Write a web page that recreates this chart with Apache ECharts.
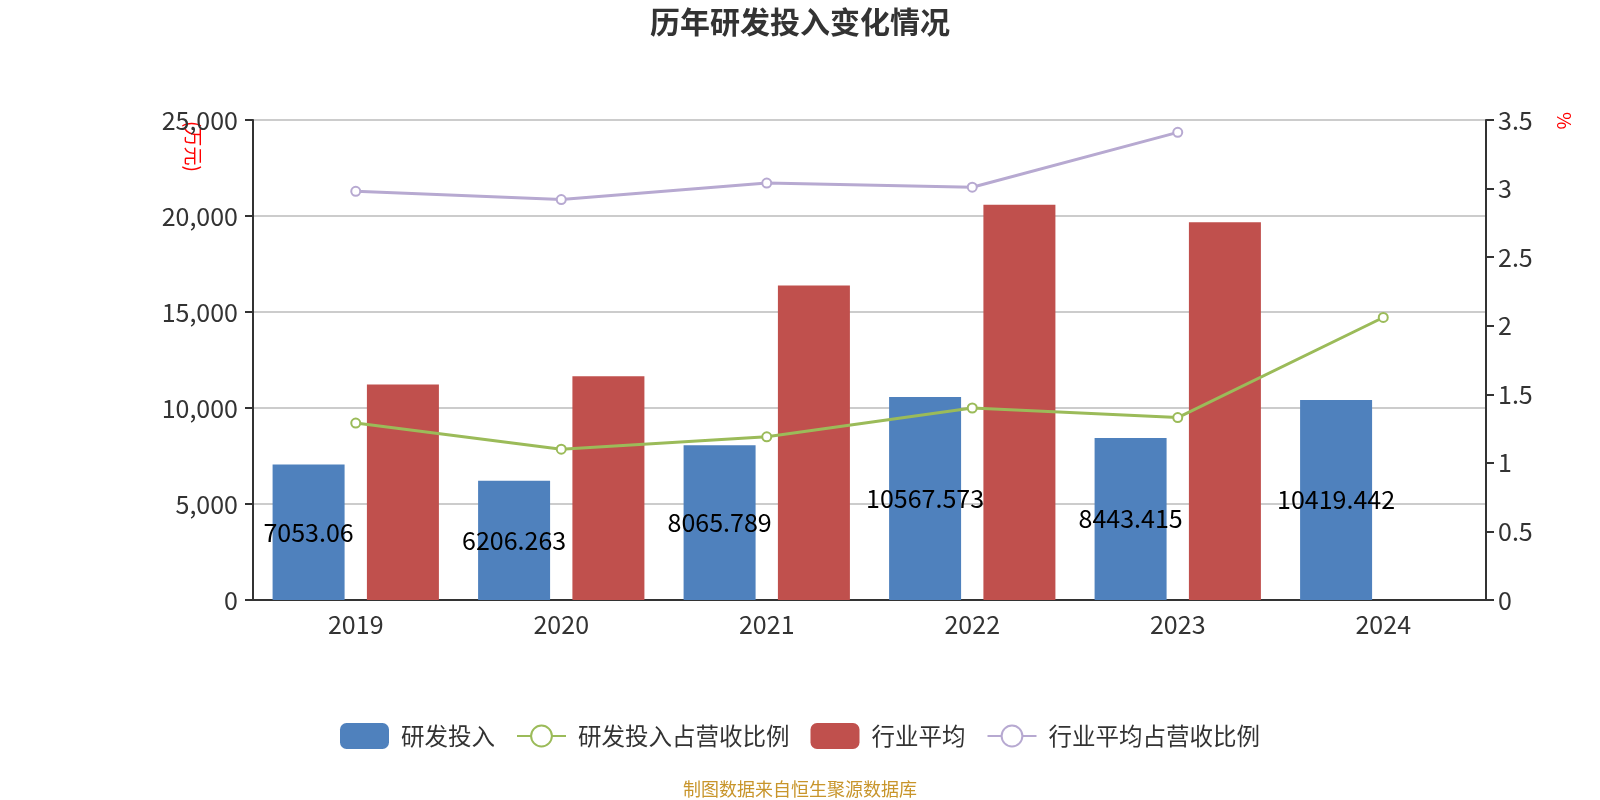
<!DOCTYPE html>
<html><head><meta charset="utf-8">
<script src="https://cdn.jsdelivr.net/npm/echarts@6/dist/echarts.min.js"></script>
<style>html,body{margin:0;padding:0;background:#fff}#c{width:1600px;height:800px}</style>
</head><body><div id="c"></div>
<script>
const years = ['2019','2020','2021','2022','2023','2024'];
const rdInvest = [7053.06, 6206.263, 8065.789, 10567.573, 8443.415, 10419.442];
const rdRatio = [1.29, 1.10, 1.19, 1.40, 1.33, 2.06];
const industryAvg = [11220, 11650, 16380, 20590, 19680, null];
const industryRatio = [2.98, 2.92, 3.04, 3.01, 3.41, null];
const leftTicks = {min: 0, max: 25000, interval: 5000};
const rightTicks = {min: 0, max: 3.5, interval: 0.5};

const font = '"Noto Sans CJK SC", "Noto Sans", sans-serif';
const chart = echarts.init(document.getElementById('c'));
chart.setOption({
  animation: false,
  textStyle: {fontFamily: font},
  title: {text: '历年研发投入变化情况', left: 'center', top: 2,
    textStyle: {fontSize: 30, fontWeight: 'bold', color: '#333', fontFamily: font}},
  legend: {bottom: 46, left: 'center', itemWidth: 49, itemHeight: 26, itemGap: 21,
    textStyle: {fontSize: 23.5, color: '#333', fontFamily: font, padding: [0, 0, 0, 7]},
    data: ['研发投入', '研发投入占营收比例', '行业平均', '行业平均占营收比例']},
  grid: {left: 253, right: 114, top: 120, bottom: 200},
  graphic: [
    {type: 'text', left: 184, top: 121, rotation: -Math.PI/2,
      style: {text: '(万元)', fill: '#ff0000', font: '19px ' + font}},
    {type: 'text', left: 1555, top: 112, rotation: -Math.PI/2,
      style: {text: '%', fill: '#ff0000', font: '19px ' + font}},
    {type: 'text', left: 'center', bottom: 2,
      style: {text: '制图数据来自恒生聚源数据库', fill: '#c8952b', font: '18px ' + font}}
  ],
  xAxis: {type: 'category', data: years,
    axisLine: {lineStyle: {color: '#333', width: 2}},
    axisTick: {lineStyle: {color: '#333', width: 2}, length: 8},
    axisLabel: {fontSize: 25, color: '#333', margin: 12}},
  yAxis: [
    {type: 'value', ...leftTicks,
      axisLine: {show: true, lineStyle: {color: '#333', width: 2}},
      axisTick: {show: true, lineStyle: {color: '#333', width: 2}, length: 8},
      axisLabel: {fontSize: 25, color: '#333', margin: 15},
      splitLine: {lineStyle: {color: '#bbb', width: 1.5}}},
    {type: 'value', ...rightTicks,
      axisLine: {show: true, lineStyle: {color: '#333', width: 2}},
      axisTick: {show: true, lineStyle: {color: '#333', width: 2}, length: 8},
      axisLabel: {fontSize: 25, color: '#333', margin: 12},
      splitLine: {show: false}}
  ],
  series: [
    {name: '研发投入', type: 'bar', data: rdInvest, barWidth: 72, barGap: '31%',
      itemStyle: {color: '#4f81bd'},
      label: {show: true, position: 'inside', color: '#000', fontSize: 25, fontFamily: font}},
    {name: '研发投入占营收比例', type: 'line', yAxisIndex: 1, data: rdRatio,
      symbol: 'emptyCircle', symbolSize: 9, lineStyle: {color: '#9bbb59', width: 3},
      itemStyle: {color: '#9bbb59'}},
    {name: '行业平均', type: 'bar', data: industryAvg, barWidth: 72,
      itemStyle: {color: '#c0504d'}},
    {name: '行业平均占营收比例', type: 'line', yAxisIndex: 1, data: industryRatio,
      symbol: 'emptyCircle', symbolSize: 9, lineStyle: {color: '#b7a9d1', width: 3},
      itemStyle: {color: '#b7a9d1'}}
  ]
});
</script></body></html>
